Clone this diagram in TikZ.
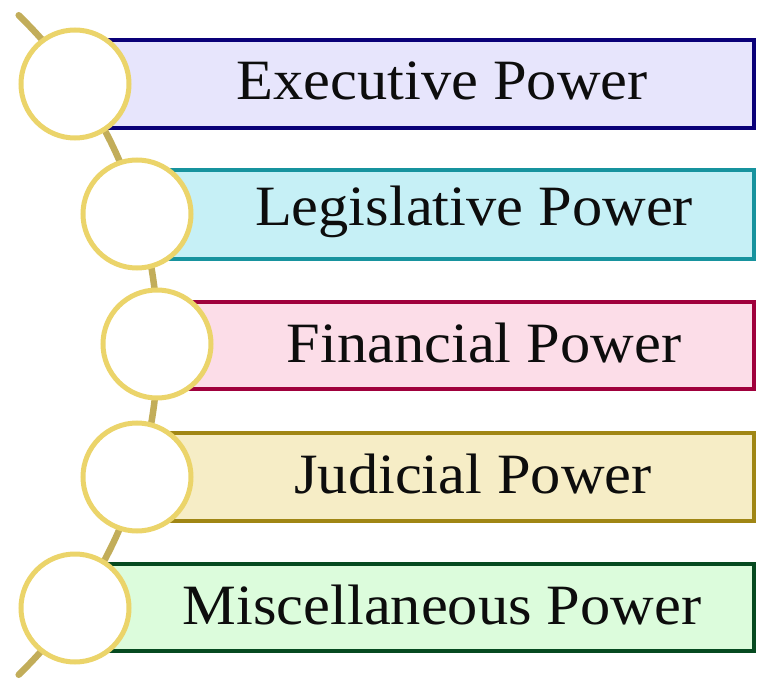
\documentclass[tikz,border=0pt]{standalone}
\usepackage{graphicx}
\usepackage{fontspec}
\setmainfont{Liberation Serif}
\definecolor{spine}{HTML}{C2AD5A}
\definecolor{ring}{HTML}{EBD46A}
\definecolor{fA}{HTML}{E7E5FC}\definecolor{dA}{HTML}{0A0078}
\definecolor{fB}{HTML}{C6F0F6}\definecolor{dB}{HTML}{17939E}
\definecolor{fC}{HTML}{FCDDE8}\definecolor{dC}{HTML}{A0003C}
\definecolor{fD}{HTML}{F6EDC6}\definecolor{dD}{HTML}{A08614}
\definecolor{fE}{HTML}{DCFCDC}\definecolor{dE}{HTML}{064A20}
\newcommand{\lbltext}[1]{\scalebox{1.06}[1]{#1}}
\tikzset{
  bar/.style={line width=4.5pt},
  ringnode/.style={circle, draw=ring, fill=white, line width=5pt, minimum size=108pt, inner sep=0pt},
  label/.style={font=\fontsize{57}{60}\selectfont, text=black!95, inner sep=0pt, anchor=center},
}
\begin{document}
\begin{tikzpicture}[x=1pt,y=-1pt]
\useasboundingbox (0,0) rectangle (757,684);
% spine
\draw[spine, line width=6.5pt, line cap=round]
  plot[domain=-45.8:45.8, samples=80] ({-302+460*cos(\x)}, {345-460*sin(\x)});
% bars
\draw[bar, draw=dA, fill=fA] (75,40) rectangle (754,128);
\draw[bar, draw=dB, fill=fB] (137,170) rectangle (754,259);
\draw[bar, draw=dC, fill=fC] (157,302) rectangle (754,389);
\draw[bar, draw=dD, fill=fD] (137,433) rectangle (754,521);
\draw[bar, draw=dE, fill=fE] (75,564) rectangle (754,651);
% rings
\node[ringnode] (c1) at (75,84) {};
\node[ringnode] (c2) at (137,214) {};
\node[ringnode] (c3) at (157,344) {};
\node[ringnode] (c4) at (137,477) {};
\node[ringnode] (c5) at (75,608) {};
% labels
\node[label] (t1) at (442,81) {\lbltext{Executive Power}};
\node[label] (t2) at (474,212) {\lbltext{Legislative Power}};
\node[label] (t3) at (484,343) {\lbltext{Financial Power}};
\node[label] (t4) at (473,474) {\lbltext{Judicial Power}};
\node[label] (t5) at (442,605) {\lbltext{Miscellaneous Power}};
\end{tikzpicture}
\end{document}
